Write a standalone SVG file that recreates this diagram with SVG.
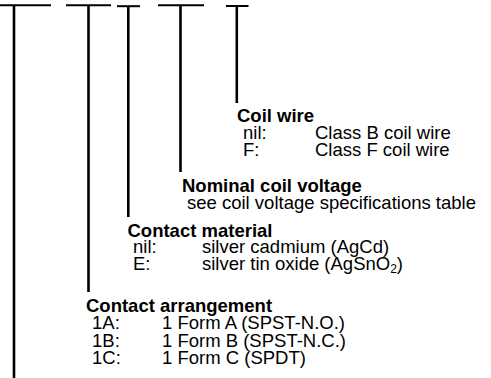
<svg xmlns="http://www.w3.org/2000/svg" width="491" height="378" viewBox="0 0 491 378">
<style>
.bar{stroke:#000;stroke-width:2;fill:none}
.ln{stroke:#000;stroke-width:2.6;fill:none}
text{font-family:"Liberation Sans",Arial,sans-serif;font-size:18.5px;fill:#000}
.h{font-weight:bold}
</style>
<rect width="491" height="378" fill="#fff"/>
<g id="connectors">
<line class="bar" x1="0" y1="5.3" x2="51" y2="5.3"/>
<line class="ln" x1="14" y1="5" x2="14" y2="378"/>
<line class="bar" x1="66" y1="5.3" x2="111" y2="5.3"/>
<line class="ln" x1="88.5" y1="5" x2="88.5" y2="292"/>
<line class="bar" x1="117" y1="6.2" x2="140" y2="6.2"/>
<line class="ln" x1="128.3" y1="6" x2="128.3" y2="217"/>
<line class="bar" x1="158" y1="5.3" x2="204" y2="5.3"/>
<line class="ln" x1="180.5" y1="5" x2="180.5" y2="172"/>
<line class="bar" x1="226" y1="6" x2="248.5" y2="6"/>
<line class="ln" x1="236.8" y1="6" x2="236.8" y2="103"/>
</g>
<g id="coil-wire">
<text class="h" x="237" y="122">Coil wire</text>
<text x="243" y="139">nil:</text><text x="315" y="139">Class B coil wire</text>
<text x="243" y="156">F:</text><text x="315" y="156">Class F coil wire</text>
</g>
<g id="nominal-coil-voltage">
<text class="h" x="182" y="191.5">Nominal coil voltage</text>
<text x="187" y="208.5">see coil voltage specifications table</text>
</g>
<g id="contact-material">
<text class="h" x="127.5" y="236.5">Contact material</text>
<text x="133" y="253">nil:</text><text x="202" y="253">silver cadmium (AgCd)</text>
<text x="133" y="270">E:</text><text x="202" y="270">silver tin oxide (AgSnO<tspan font-size="12" dy="3">2</tspan><tspan dy="-3">)</tspan></text>
</g>
<g id="contact-arrangement">
<text class="h" x="86" y="311.5">Contact arrangement</text>
<text x="92" y="329">1A:</text><text x="162" y="329">1 Form A (SPST-N.O.)</text>
<text x="92" y="346.5">1B:</text><text x="162" y="346.5">1 Form B (SPST-N.C.)</text>
<text x="92" y="364">1C:</text><text x="162" y="364">1 Form C (SPDT)</text>
</g>
</svg>
